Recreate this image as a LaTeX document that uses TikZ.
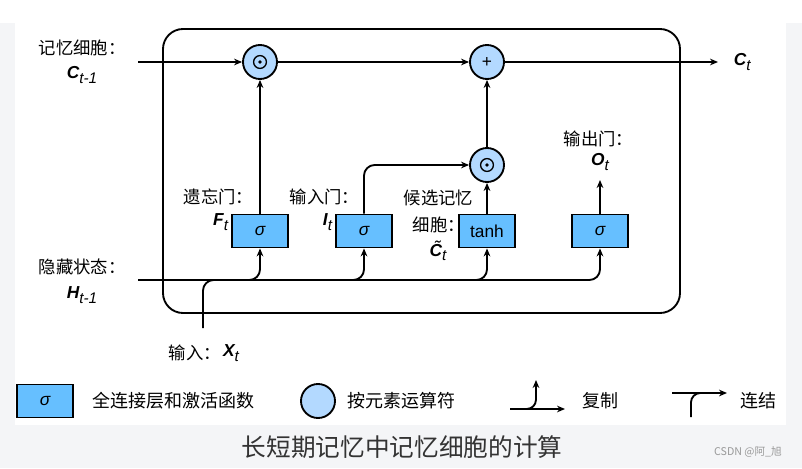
\documentclass[tikz,border=0pt]{standalone}
\usepackage{fontspec}
\setmainfont{Liberation Sans}
\newfontfamily\cjk{Noto Sans CJK SC}
\usetikzlibrary{arrows.meta,calc}
\definecolor{gateblue}{HTML}{66BFFF}
\definecolor{opblue}{HTML}{B3D9FF}
\definecolor{pagegray}{HTML}{F4F5F7}
\definecolor{captgray}{HTML}{333333}
\newcommand{\vsub}[2]{{\fontsize{13}{13}\selectfont\bfseries\itshape #1}\raisebox{-0.6ex}{\fontsize{11.5}{11.5}\selectfont\itshape #2}}
\newcommand{\sig}{{\itshape σ}}

\begin{document}
\begin{tikzpicture}[x=0.75pt,y=-0.75pt,line width=1.4pt,>={Stealth[length=6pt,width=5pt]},
    gate/.style={draw,fill=gateblue,minimum width=42pt,minimum height=24.75pt,inner sep=0pt,font=\fontsize{13}{13}\selectfont},
    op/.style={circle,draw,fill=opblue,minimum size=25.5pt,inner sep=0pt,font=\fontsize{13}{13}\selectfont},
    mul/.style={op,path picture={\draw[line width=1pt] (path picture bounding box.center) circle (4.8pt);
        \fill[black] (path picture bounding box.center) circle (1.4pt);}},
    lab/.style={inner sep=0pt,anchor=west,font=\cjk\fontsize{13}{14}\selectfont},
    var/.style={inner sep=0pt},
    legend/.style={inner sep=0pt,anchor=west,font=\cjk\fontsize{13.5}{15}\selectfont}]
    \useasboundingbox (0,0) rectangle (802,468);
    \fill[white] (0,0) rectangle (802,468);
    \fill[pagegray] (0,23) rectangle (802,468);
    \fill[white] (15,23) rectangle (786,425);

    \draw[rounded corners=15pt] (163,29) rectangle (680,313);

    \node[mul]  (mulf)  at (260,62)  {};
    \node[op]   (add)   at (487,62)  {+};
    \node[mul]  (muli)  at (487,165) {};
    \node[gate] (fgate) at (260,231) {\sig};
    \node[gate] (igate) at (364,231) {\sig};
    \node[gate] (cand)  at (487,231) {tanh};
    \node[gate] (ogate) at (600,231) {\sig};

    \coordinate (cin)  at (138,62);
    \coordinate (cout) at (718,62);
    \coordinate (hin)  at (138,280);
    \coordinate (xin)  at (203,328);
    \coordinate (oout) at (600,180);

    \draw[->] (cin) -- (mulf);
    \draw[->] (mulf) -- (add);
    \draw[->] (add) -- (cout);
    \draw[->] (fgate) -- (mulf);
    \draw[->,rounded corners=8pt] (igate.north) |- (muli.west);
    \draw[->] (cand) -- (muli);
    \draw[->] (muli) -- (add);
    \draw[->] (ogate) -- (oout);

    \draw[->,rounded corners=8pt] (hin) -| (ogate.south);
    \foreach \g in {fgate,igate,cand}
        \draw[->,rounded corners=8pt] ($(\g.south |- hin)+(-12pt,0)$) -| (\g.south);
    \draw[rounded corners=8pt] (xin) |- ($(xin |- hin)+(24pt,0)$);

    \node[lab] (clab)  at (38,48)   {记忆细胞：};
    \node[var] (cprev) at (82,75)   {\vsub{C}{t-1}};
    \node[lab] (hlab)  at (38,267)  {隐藏状态：};
    \node[var] (hprev) at (82,295)  {\vsub{H}{t-1}};
    \node[var,anchor=west] (cnext) at (733,62) {\vsub{C}{t}};
    \node[lab] (flab)  at (183,197) {遗忘门：};
    \node[var,anchor=east] (fvar) at (229,222) {\vsub{F}{t}};
    \node[lab] (ilab)  at (289,197) {输入门：};
    \node[var,anchor=east] (ivar) at (333,222) {\vsub{I}{t}};
    \node[lab] (clab1) at (403,198) {候选记忆};
    \node[lab] (clab2) at (412,225) {细胞：};
    \node[var] (cvar)  at (438,251) {\vsub{\~{C}}{t}};
    \node[lab] (olab)  at (563,139) {输出门：};
    \node[var] (ovar)  at (600,162) {\vsub{O}{t}};
    \node[lab] (xlab)  at (168,353) {输入：};
    \node[var] (xvar)  at (231,353) {\vsub{X}{t}};

    \node[gate] (lgate) at (45,401) {\sig};
    \node[legend] (lgtxt) at (92,401) {全连接层和激活函数};
    \node[op] (lop) at (318,401) {};
    \node[legend] (loptxt) at (347,401) {按元素运算符};
    \coordinate (cpa) at (510,409);
    \coordinate (cpb) at (565,409);
    \coordinate (cpc) at (536,380);
    \draw[->] (cpa) -- (cpb);
    \draw[->,rounded corners=7pt] ($(cpc |- cpa)+(-9pt,0)$) -| (cpc);
    \node[legend] (cptxt) at (582,401) {复制};
    \coordinate (cca) at (672,393);
    \coordinate (ccb) at (727,393);
    \coordinate (ccc) at (691,417);
    \draw[->] (cca) -- (ccb);
    \draw[rounded corners=7pt] (ccc) |- ($(ccc |- cca)+(12pt,0)$);
    \node[legend] (cctxt) at (740,401) {连结};

    \node[inner sep=0pt,text=captgray,font=\cjk\fontsize{18.5}{20}\selectfont] (title) at (402,447) {长短期记忆中记忆细胞的计算};
    \node[inner sep=0pt,text=gray!80,font=\cjk\fontsize{8}{9}\selectfont] (mark) at (748,452) {CSDN @阿\_旭};
\end{tikzpicture}
\end{document}
